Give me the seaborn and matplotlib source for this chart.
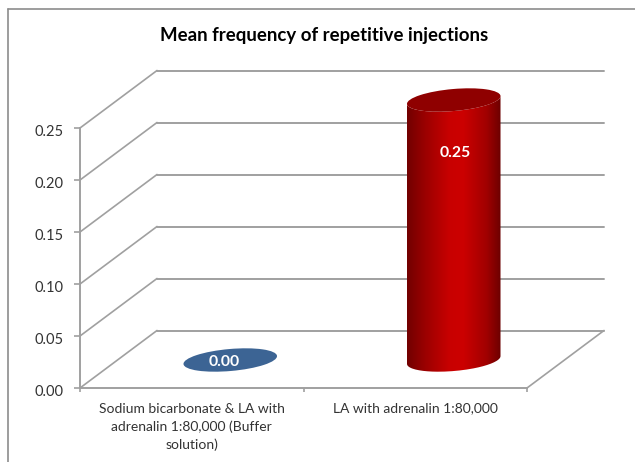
import numpy as np
import matplotlib
matplotlib.use("Agg")
import matplotlib.pyplot as plt
import seaborn as sns
from matplotlib.colors import LinearSegmentedColormap
from matplotlib.lines import Line2D
from matplotlib.patches import Ellipse
from matplotlib.path import Path
from matplotlib.transforms import Affine2D, IdentityTransform

categories = ["Sodium bicarbonate & LA with\nadrenalin 1:80,000 (Buffer\nsolution)",
              "LA with adrenalin 1:80,000"]
values = [0.00, 0.25]
value_labels = ["0.00", "0.25"]
y_ticks = [0.00, 0.05, 0.10, 0.15, 0.20, 0.25]
title = "Mean frequency of repetitive injections"

W, H = 635, 462
GRID = "#a0a0a0"
TEXT = "#333333"
FONT = "Lato"
sns.set_theme(style="white")
plt.rcParams["font.family"] = [FONT, "DejaVu Sans"]

fig = plt.figure(figsize=(W / 100, H / 100), dpi=100, facecolor="white")
ax = fig.add_axes([80 / W, (H - 388) / H, (527 - 80) / W, (388 - 128) / H])
ax.patch.set_visible(False)

sns.barplot(x=categories, y=values, ax=ax, width=0.42, color="#3c6494",
            errorbar=None, zorder=1)
ax.set_xlim(-0.5, 1.5)
ax.set_ylim(0, 0.25)

# depth of the 3D floor in pixels
depth = Affine2D().translate(77, 57.5)
back = ax.transData + depth
mid = ax.transData + Affine2D().translate(38.5, 28)

# walls
for v in y_ticks:
    ax.plot([-0.5, 1.5], [v, v], transform=back, color=GRID, lw=1.4, clip_on=False, zorder=0.5)
    a = ax.transData.transform((-0.5, v))
    b = back.transform((-0.5, v))
    fig.add_artist(Line2D([a[0], b[0]], [a[1], b[1]], transform=IdentityTransform(),
                          color=GRID, lw=1.2, zorder=0.5))
a = ax.transData.transform((1.5, 0))
b = back.transform((1.5, 0))
fig.add_artist(Line2D([a[0], b[0]], [a[1], b[1]], transform=IdentityTransform(),
                      color=GRID, lw=1.2, zorder=0.5))

# axes
for s in ["top", "right"]:
    ax.spines[s].set_visible(False)
for s in ["left", "bottom"]:
    ax.spines[s].set_color(GRID)
    ax.spines[s].set_linewidth(1.4)
ax.set_yticks(y_ticks)
ax.set_yticklabels([f"{v:.2f}" for v in y_ticks], fontsize=10.5, color=TEXT, family=FONT)
ax.set_xticks([-0.5, 0.5, 1.5], minor=True)
ax.tick_params(axis="x", which="major", length=0, pad=10.5)
ax.tick_params(axis="x", which="minor", length=3, color=GRID, width=1.2, bottom=True)
ax.tick_params(axis="y", length=4, color=GRID, width=1.2, pad=8, left=True)
for t in ax.get_xticklabels():
    t.set_fontsize(10)
    t.set_color(TEXT)
    t.set_linespacing(1.55)
    t.set_family(FONT)
for t in ax.get_yticklabels():
    t.set_transform(t.get_transform() + Affine2D().translate(0, -2.5))

# cylinders built on the bars seaborn drew
cmap = LinearSegmentedColormap.from_list(
    "cyl", [(0, "#720000"), (0.2, "#9c0000"), (0.45, "#c80000"), (0.6, "#cc0000"),
            (0.85, "#a00000"), (1, "#6c0000")])
ANGLE, EH = 5, 22
bars = list(ax.patches)
for bar, val in zip(bars, values):
    bar.set_visible(False)
    xc = bar.get_x() + bar.get_width() / 2
    wpx = ax.transData.transform((bar.get_width(), 0))[0] - ax.transData.transform((0, 0))[0]
    cb = mid.transform((xc, 0))
    ct = mid.transform((xc, val))
    if val == 0:
        ax.add_patch(Ellipse(cb, wpx, EH, angle=ANGLE, transform=IdentityTransform(),
                             fc="#3c6494", ec="none", clip_on=False, zorder=3))
        continue
    th = np.deg2rad(ANGLE)
    t = np.linspace(np.pi, 2 * np.pi, 80)
    ex = wpx / 2 * np.cos(t)
    ey = EH / 2 * np.sin(t)
    rot = np.c_[ex * np.cos(th) - ey * np.sin(th), ex * np.sin(th) + ey * np.cos(th)]
    lower = rot + cb
    upper = (rot + ct)[::-1]
    path = Path(np.vstack([lower, upper, lower[:1]]))
    x0, x1 = xc - bar.get_width() / 2, xc + bar.get_width() / 2
    im = ax.imshow(np.linspace(0, 1, 256)[None, :], cmap=cmap, aspect="auto",
                   extent=(x0, x1, -0.03, val + 0.03), transform=mid, zorder=2,
                   interpolation="bilinear")
    im.set_clip_box(fig.bbox)
    im.set_clip_path(path, IdentityTransform())
    ax.add_patch(Ellipse(ct, wpx, EH, angle=ANGLE, transform=IdentityTransform(),
                         fc="#8f0000", ec="none", clip_on=False, zorder=3))
ax.set_xlim(-0.5, 1.5)
ax.set_ylim(0, 0.25)

# value labels
ax.annotate(value_labels[0], (0, values[0]), xycoords=mid, xytext=(-6, -2),
            textcoords="offset pixels", ha="center", va="center", color="white",
            fontsize=11.3, fontweight="bold", zorder=5, family=FONT)
ax.annotate(value_labels[1], (1, values[1]), xycoords=mid, xytext=(2, -53),
            textcoords="offset pixels", ha="center", va="center", color="white",
            fontsize=11.3, fontweight="bold", zorder=5, family=FONT)

fig.text(324 / W, 1 - 36 / H, title, ha="center", va="center", fontsize=13.4,
         fontweight="bold", color="black", family=FONT)

# chart-area frame
for xs, ys in [([8, 8], [9, H]), ([8, W], [9, 9])]:
    fig.add_artist(Line2D(np.array(xs) / W, 1 - np.array(ys) / H, color="#8c8c8c", lw=1.2))

fig.savefig("out.png", dpi=100, facecolor="white")
